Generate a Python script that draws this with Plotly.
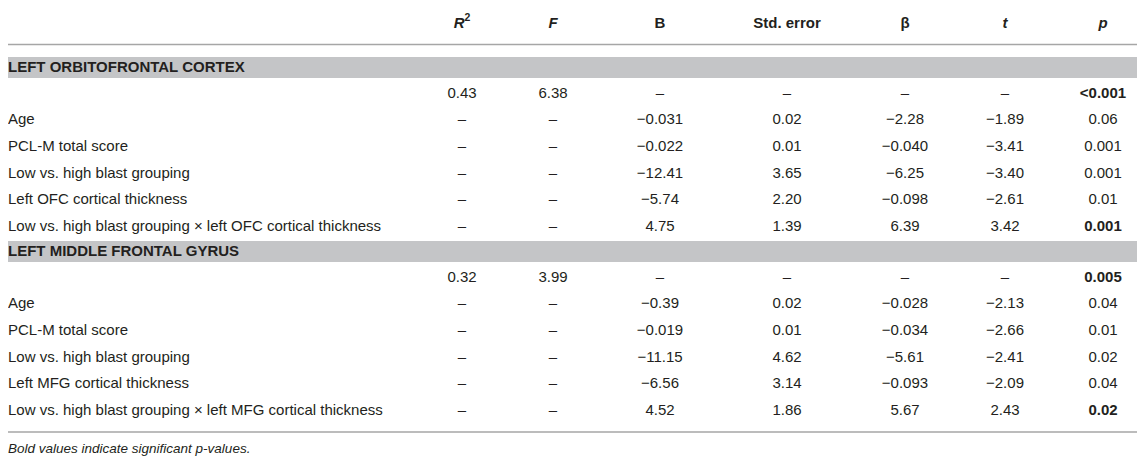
import plotly.graph_objects as go

# column headers and row labels
columns = ["<i>R</i><sup>2</sup>", "<i>F</i>", "B", "Std. error", "β", "<i>t</i>", "<i>p</i>"]
sections = ["LEFT ORBITOFRONTAL CORTEX", "LEFT MIDDLE FRONTAL GYRUS"]
ofc_labels = ["", "Age", "PCL-M total score", "Low vs. high blast grouping",
              "Left OFC cortical thickness",
              "Low vs. high blast grouping × left OFC cortical thickness"]
mfg_labels = ["", "Age", "PCL-M total score", "Low vs. high blast grouping",
              "Left MFG cortical thickness",
              "Low vs. high blast grouping × left MFG cortical thickness"]

# values, one list per column (rows: model, age, pcl, grouping, thickness, interaction)
ofc_r2 = ["0.43", "–", "–", "–", "–", "–"]
ofc_f = ["6.38", "–", "–", "–", "–", "–"]
ofc_b = ["–", "−0.031", "−0.022", "−12.41", "−5.74", "4.75"]
ofc_se = ["–", "0.02", "0.01", "3.65", "2.20", "1.39"]
ofc_beta = ["–", "−2.28", "−0.040", "−6.25", "−0.098", "6.39"]
ofc_t = ["–", "−1.89", "−3.41", "−3.40", "−2.61", "3.42"]
ofc_p = ["<0.001", "0.06", "0.001", "0.001", "0.01", "0.001"]
ofc_sig = [True, False, False, False, False, True]

mfg_r2 = ["0.32", "–", "–", "–", "–", "–"]
mfg_f = ["3.99", "–", "–", "–", "–", "–"]
mfg_b = ["–", "−0.39", "−0.019", "−11.15", "−6.56", "4.52"]
mfg_se = ["–", "0.02", "0.01", "4.62", "3.14", "1.86"]
mfg_beta = ["–", "−0.028", "−0.034", "−5.61", "−0.093", "5.67"]
mfg_t = ["–", "−2.13", "−2.66", "−2.41", "−2.09", "2.43"]
mfg_p = ["0.005", "0.04", "0.01", "0.02", "0.04", "0.02"]
mfg_sig = [True, False, False, False, False, True]

footnote = "Bold values indicate significant p-values."

# layout in screen pixels (page has an 8px body margin, axes are shifted to match)
W, H = 1145, 460
OFF = 8
col_x = [462, 553, 660, 787, 905, 1005, 1103]
label_x = 8
header_y = 24
band_top = [57, 241]
band_h = 21
row_gap = 26.6
first_row = 16
line_col = "#a6a6a6"
band_col = "#c4c5c7"
txt_col = "#231f20"
FONT = "Liberation Sans, Arial, sans-serif"
FS = 15


def text_trace(x, y, text, pos, size=FS):
    return go.Scatter(x=x, y=y, mode="text", text=text, textposition=pos,
                      textfont=dict(family=FONT, size=size, color=txt_col),
                      hoverinfo="skip", showlegend=False, cliponaxis=False)


fig = go.Figure()

# header row
fig.add_trace(text_trace(col_x, [header_y] * len(columns),
                         ["<b>%s</b>" % c for c in columns], "middle center"))

shapes = []
for y in [4, 44.5]:
    shapes.append(dict(type="line", xref="x", yref="y", x0=0, x1=W + OFF, y0=y, y1=y,
                       line=dict(color=line_col, width=1.6)))

blocks = [
    (ofc_labels, [ofc_r2, ofc_f, ofc_b, ofc_se, ofc_beta, ofc_t, ofc_p], ofc_sig),
    (mfg_labels, [mfg_r2, mfg_f, mfg_b, mfg_se, mfg_beta, mfg_t, mfg_p], mfg_sig),
]

last_y = 0
for i, (labels, cols, sig) in enumerate(blocks):
    top = band_top[i]
    shapes.append(dict(type="rect", xref="x", yref="y", x0=0, x1=W + OFF, y0=top, y1=top + band_h,
                       fillcolor=band_col, line=dict(width=0), layer="below"))
    fig.add_trace(text_trace([label_x], [top + band_h / 2 + 0.5],
                             ["<b>%s</b>" % sections[i]], "middle right"))
    ys = [top + band_h + first_row + r * row_gap for r in range(len(labels))]
    last_y = ys[-1]
    lab_y = [y for y, l in zip(ys, labels) if l]
    fig.add_trace(text_trace([label_x] * len(lab_y), lab_y, [l for l in labels if l], "middle right"))
    for j, vals in enumerate(cols):
        if j == len(cols) - 1:
            vals = ["<b>%s</b>" % v if s else v for v, s in zip(vals, sig)]
        fig.add_trace(text_trace([col_x[j]] * len(vals), ys, vals, "middle center"))

bottom = last_y + 21
shapes.append(dict(type="line", xref="x", yref="y", x0=0, x1=W + OFF, y0=bottom, y1=bottom,
                   line=dict(color=line_col, width=1.6)))

fig.add_trace(text_trace([label_x], [bottom + 18], ["<i>%s</i>" % footnote], "middle right", size=13.5))

fig.update_layout(
    width=W, height=H,
    margin=dict(l=0, r=0, t=0, b=0),
    paper_bgcolor="white", plot_bgcolor="white",
    shapes=shapes,
    xaxis=dict(range=[OFF, W + OFF], visible=False, fixedrange=True),
    yaxis=dict(range=[H + OFF, OFF], visible=False, fixedrange=True),
)

fig.write_html("out.html")
